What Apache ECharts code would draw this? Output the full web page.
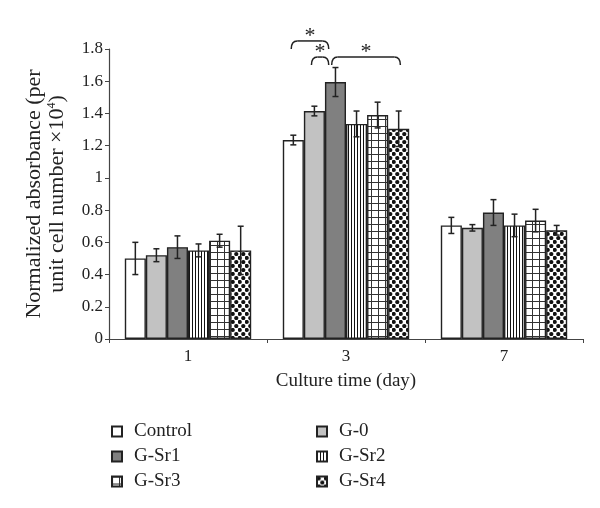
<!DOCTYPE html>
<html>
<head>
<meta charset="utf-8">
<script src="https://cdn.jsdelivr.net/npm/echarts@6/dist/echarts.min.js"></script>
<style>
  html, body { margin: 0; padding: 0; background: #fff; }
  #main { width: 600px; height: 508px; }
</style>
</head>
<body>
<div id="main"></div>
<script>
document.addEventListener("DOMContentLoaded", function () {
    // Data
    const days = ["1", "3", "7"];
    const groups = ["Control", "G-0", "G-Sr1", "G-Sr2", "G-Sr3", "G-Sr4"];
    const means = {
        "Control": [0.50, 1.235, 0.705],
        "G-0":     [0.52, 1.415, 0.69],
        "G-Sr1":   [0.57, 1.595, 0.785],
        "G-Sr2":   [0.55, 1.335, 0.705],
        "G-Sr3":   [0.61, 1.39, 0.735],
        "G-Sr4":   [0.55, 1.305, 0.675]
    };
    const errors = {
        "Control": [0.10, 0.03, 0.05],
        "G-0":     [0.04, 0.03, 0.02],
        "G-Sr1":   [0.07, 0.09, 0.08],
        "G-Sr2":   [0.04, 0.08, 0.07],
        "G-Sr3":   [0.04, 0.08, 0.07],
        "G-Sr4":   [0.15, 0.11, 0.03]
    };
    // significance brackets on day 3: [from slot, to slot, y value]
    const brackets = [[0.4, 2.18, 1.85], [1.36, 2.18, 1.75], [2.32, 5.58, 1.75]];

    const font = "'Liberation Serif', 'DejaVu Serif', serif";
    const ink = "#222";

    // Pattern tiles
    function stripes() {
        const c = document.createElement("canvas");
        c.width = 3; c.height = 3;
        const g = c.getContext("2d");
        g.fillStyle = "#fff"; g.fillRect(0, 0, 3, 3);
        g.fillStyle = "#111"; g.fillRect(0, 0, 1, 3);
        return c;
    }
    function gridTile() {
        const c = document.createElement("canvas");
        c.width = 7; c.height = 7;
        const g = c.getContext("2d");
        g.fillStyle = "#fff"; g.fillRect(0, 0, 7, 7);
        g.fillStyle = "#333";
        g.fillRect(0, 0, 1, 7);
        g.fillRect(0, 0, 7, 1);
        return c;
    }
    function dots() {
        const c = document.createElement("canvas");
        c.width = 7; c.height = 8;
        const g = c.getContext("2d");
        g.fillStyle = "#fff"; g.fillRect(0, 0, 7, 8);
        g.fillStyle = "#111";
        [[1.75, 2], [5.25, 6], [5.25, -2], [-1.75, 6], [8.75, 6], [1.75, 10]].forEach(function (p) {
            g.beginPath(); g.arc(p[0], p[1], 2.1, 0, Math.PI * 2); g.fill();
        });
        return c;
    }

    const fills = {
        "Control": "#ffffff",
        "G-0": "#c2c2c2",
        "G-Sr1": "#808080",
        "G-Sr2": { image: stripes(), repeat: "repeat" },
        "G-Sr3": { image: gridTile(), repeat: "repeat" },
        "G-Sr4": { image: dots(), repeat: "repeat" }
    };

    const series = groups.map(function (name) {
        return {
            name: name,
            type: "bar",
            barGap: "0%",
            barCategoryGap: "20%",
            data: means[name],
            itemStyle: { color: fills[name], borderColor: ink, borderWidth: 1.4 },
            emphasis: { disabled: true }
        };
    });

    // Error bars
    const errData = [];
    groups.forEach(function (name, s) {
        days.forEach(function (d, i) {
            errData.push([i, s, means[name][i], errors[name][i]]);
        });
    });
    series.push({
        type: "custom",
        data: errData,
        z: 10,
        renderItem: function (params, api) {
            const cat = api.value(0);
            const s = api.value(1);
            const v = api.value(2);
            const e = api.value(3);
            const catW = api.size([1, 0])[0];
            const barW = catW * 0.8 / 6;
            const base = api.coord([cat, v]);
            const x = base[0] + (s - 2.5) * barW;
            const hi = api.coord([cat, v + e])[1];
            const lo = api.coord([cat, v - e])[1];
            const st = { stroke: ink, lineWidth: 1.5 };
            return {
                type: "group",
                children: [
                    { type: "line", shape: { x1: x, y1: hi, x2: x, y2: lo }, style: st },
                    { type: "line", shape: { x1: x - 3, y1: hi, x2: x + 3, y2: hi }, style: st },
                    { type: "line", shape: { x1: x - 3, y1: lo, x2: x + 3, y2: lo }, style: st }
                ]
            };
        }
    });

    const legendCommon = {
        orient: "vertical",
        icon: "rect",
        itemWidth: 10,
        itemHeight: 10,
        itemGap: 6,
        padding: 0,
        selectedMode: false,
        textStyle: { fontFamily: font, fontSize: 19, color: "#222", padding: [0, 0, 0, 7] }
    };

    const chartDom = document.getElementById("main");
    const myChart = echarts.init(chartDom);
    const option = {
        animation: false,
        backgroundColor: "#fff",
        grid: { left: 109, right: 17, top: 49, bottom: 169 },
        legend: [
            Object.assign({ left: 111, top: 422, data: ["Control", "G-Sr1", "G-Sr3"] }, legendCommon),
            Object.assign({ left: 316, top: 422, data: ["G-0", "G-Sr2", "G-Sr4"] }, legendCommon)
        ],
        xAxis: {
            type: "category",
            data: days,
            name: "Culture time (day)",
            nameLocation: "middle",
            nameGap: 33,
            nameTextStyle: { fontFamily: font, fontSize: 19, color: "#222" },
            axisLine: { lineStyle: { color: "#444", width: 1.2 } },
            axisTick: { show: true, length: 4, lineStyle: { color: "#444" } },
            axisLabel: { fontFamily: font, fontSize: 17, color: "#222", margin: 9 }
        },
        yAxis: {
            type: "value",
            min: 0,
            max: 1.8,
            interval: 0.2,
            name: "Normalized absorbance (per\nunit cell number ×10{sup|4})",
            nameLocation: "middle",
            nameGap: 40,
            nameRotate: 90,
            nameTextStyle: {
                fontFamily: font, fontSize: 22, color: "#222", lineHeight: 23,
                rich: { sup: { fontFamily: font, fontSize: 12, verticalAlign: "top", color: "#222", padding: [0, 0, 8, 0] } }
            },
            splitLine: { show: false },
            axisLine: { show: true, lineStyle: { color: "#444", width: 1.2 } },
            axisTick: { show: true, length: 4, lineStyle: { color: "#444" } },
            axisLabel: { fontFamily: font, fontSize: 17, color: "#222", margin: 6 }
        },
        series: series
    };
    option && myChart.setOption(option);

    // Significance brackets placed from the axis scales
    const c0 = myChart.convertToPixel({ gridIndex: 0 }, [0, 0]);
    const c1 = myChart.convertToPixel({ gridIndex: 0 }, [1, 0]);
    const catW = c1[0] - c0[0];
    const barW = catW * 0.8 / 6;
    const elements = [];
    const lineStyle = { fill: null, stroke: ink, lineWidth: 1.5 };
    brackets.forEach(function (b) {
        const y = myChart.convertToPixel({ gridIndex: 0 }, [1, b[2]])[1];
        const x1 = c1[0] + (b[0] - 3) * barW;
        const x2 = c1[0] + (b[1] - 3) * barW;
        elements.push({
            type: "bezierCurve",
            shape: { x1: x1, y1: y + 8, cpx1: x1, cpy1: y, x2: x1 + 6, y2: y },
            style: lineStyle
        });
        elements.push({
            type: "line",
            shape: { x1: x1 + 6, y1: y, x2: x2 - 6, y2: y },
            style: lineStyle
        });
        elements.push({
            type: "bezierCurve",
            shape: { x1: x2 - 6, y1: y, cpx1: x2, cpy1: y, x2: x2, y2: y + 8 },
            style: lineStyle
        });
        elements.push({
            type: "text",
            x: (x1 + x2) / 2,
            y: y + 6,
            style: { text: "*", font: "22px " + font, fill: "#222", align: "center", verticalAlign: "bottom" }
        });
    });
    myChart.setOption({ graphic: elements });
});
</script>
</body>
</html>
